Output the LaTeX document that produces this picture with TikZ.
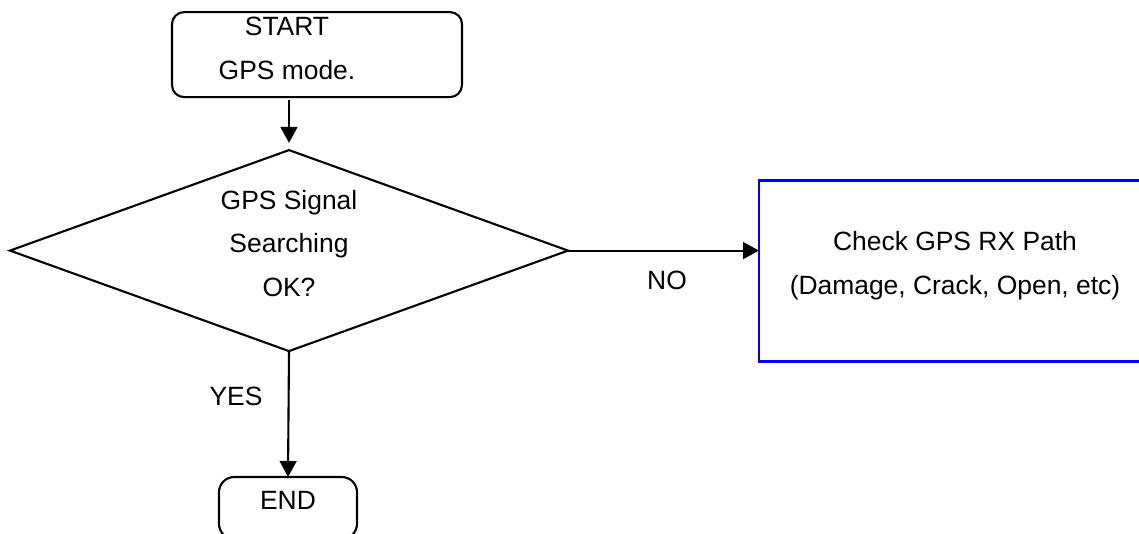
\documentclass[tikz,border=0pt]{standalone}
\usepackage{fontspec}
\setmainfont{Liberation Sans}
\usetikzlibrary{shapes.geometric,arrows.meta}
\definecolor{GPSBlue}{HTML}{0000FF}

\begin{document}
\begin{tikzpicture}[x=1cm,y=1cm,
  font=\fontsize{18.8}{31}\selectfont,
  flowline/.style={line width=1.5pt,-{Triangle[length=0.4cm,width=0.42cm]}},
  termbox/.style={draw,line width=1.5pt,inner sep=0,outer sep=0},
  decbox/.style={draw,diamond,line width=1.5pt,inner sep=0,outer sep=0},
  chkbox/.style={draw=GPSBlue,line width=2.1pt,inner sep=0,outer sep=0},
  boxtext/.style={align=center,inner sep=0}]
\path[use as bounding box] (0,0) rectangle (28.475,13.325);
\clip (0,0) rectangle (28.475,13.325);
\node[termbox,rounded corners=0.3cm,minimum width=7.25cm,minimum height=2.125cm] (start) at (7.925,11.96) {};
\node[boxtext] (starttext) at (7.175,12.11) {START\\GPS mode.};
\node[decbox,minimum width=13.95cm,minimum height=5.025cm] (dec) at (7.225,7.06) {};
\node[boxtext] (dectext) at (7.225,7.24) {GPS Signal\\Searching\\OK?};
\node[chkbox,minimum width=9.8cm,minimum height=4.525cm] (chk) at (23.875,6.54) {};
\node[boxtext] (chktext) at (23.875,6.69) {Check GPS RX Path\\(Damage, Crack, Open, etc)};
\node[termbox,rounded corners=0.38cm,minimum width=3.45cm,minimum height=1.55cm] (stop) at (7.2,0.625) {};
\node[boxtext] (stoptext) at (7.2,0.825) {END};
\draw[flowline,shorten <=0.08cm,shorten >=0.18cm] (start.south -| dec.north) -- (dec.north);
\draw[flowline] (dec.east) -- (dec.east -| chk.west);
\node (no) at (16.675,6.325) {NO};
\draw[flowline] (dec.south) -- (stop.north);
\node (yes) at (5.9,3.425) {YES};
\end{tikzpicture}
\end{document}
